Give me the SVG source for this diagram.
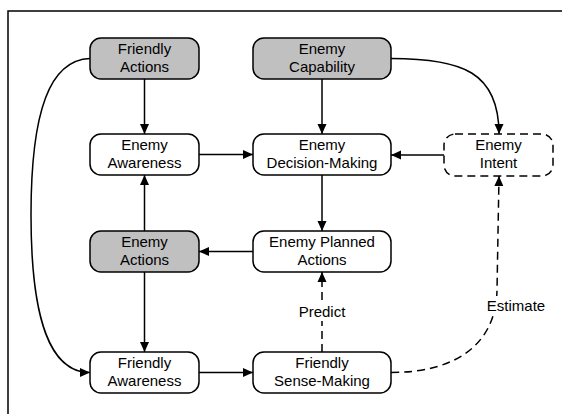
<svg xmlns="http://www.w3.org/2000/svg" width="562" height="414" viewBox="0 0 562 414">
  <style>
    .box { fill: #ffffff; stroke: #000000; stroke-width: 1.5; }
    .grey { fill: #c0c0c0; }
    .dashbox { stroke-dasharray: 8 5; }
    .txt { font-family: "Liberation Sans", Arial, sans-serif; font-size: 15px; fill: #000000; text-anchor: middle; }
    .edge { fill: none; stroke: #000000; stroke-width: 1.5; marker-end: url(#arrow); }
    .dashed { stroke-dasharray: 8 5; }
    .lblbg { fill: #ffffff; }
    .frame { fill: none; stroke: #000000; stroke-width: 1.5; }
  </style>
  <defs>
    <marker id="arrow" markerUnits="userSpaceOnUse" markerWidth="11" markerHeight="10" refX="10" refY="5" orient="auto">
      <path d="M0,0.5 L10,5 L0,9.5 z" fill="#000000"/>
    </marker>
  </defs>

  <rect width="562" height="414" fill="#ffffff"/>
  <!-- page frame -->
  <path class="frame" d="M8,414 L8,11 L562,11"/>

  <!-- connectors -->
  <g id="connectors">
    <path class="edge" d="M144.5,79 L144.5,134"/>
    <path class="edge" d="M322,79 L322,134"/>
    <path class="edge" d="M391,58.5 C462,58.5 499,72 499,134"/>
    <path class="edge" d="M90,58.5 C50,60 31,110 31,215 C31,320 50,372.5 90,372.5"/>
    <path class="edge" d="M199,154.5 L253,154.5"/>
    <path class="edge" d="M444,155 L391,155"/>
    <path class="edge" d="M322,175 L322,231"/>
    <path class="edge" d="M253,251.5 L199,251.5"/>
    <path class="edge" d="M144.5,231 L144.5,175"/>
    <path class="edge" d="M144.5,272 L144.5,352"/>
    <path class="edge" d="M199,372.5 L253,372.5"/>
    <path class="edge dashed" d="M322,352 L322,272"/>
    <path class="edge dashed" d="M391,372.5 C455,372.5 496,345 497,290 L499,176"/>
    <!-- edge labels -->
    <g id="label-predict">
      <rect class="lblbg" x="297" y="302" width="50" height="19"/>
      <text class="txt" x="322" y="317">Predict</text>
    </g>
    <g id="label-estimate">
      <rect class="lblbg" x="487" y="296" width="58" height="19"/>
      <text class="txt" x="516" y="311">Estimate</text>
    </g>
  </g>

  <!-- nodes -->
  <g id="friendly-actions">
    <rect class="box grey" x="90" y="38" width="109" height="41" rx="11"/>
    <text class="txt" x="144.5" y="54">Friendly</text>
    <text class="txt" x="144.5" y="72">Actions</text>
  </g>
  <g id="enemy-capability">
    <rect class="box grey" x="253" y="38" width="138" height="41" rx="11"/>
    <text class="txt" x="322" y="54">Enemy</text>
    <text class="txt" x="322" y="72">Capability</text>
  </g>
  <g id="enemy-awareness">
    <rect class="box" x="90" y="134" width="109" height="41" rx="11"/>
    <text class="txt" x="144.5" y="150">Enemy</text>
    <text class="txt" x="144.5" y="168">Awareness</text>
  </g>
  <g id="enemy-decision-making">
    <rect class="box" x="253" y="134" width="138" height="41" rx="11"/>
    <text class="txt" x="322" y="150">Enemy</text>
    <text class="txt" x="322" y="168">Decision-Making</text>
  </g>
  <g id="enemy-intent">
    <rect class="box dashbox" x="444" y="134" width="109" height="42" rx="11"/>
    <text class="txt" x="498.5" y="150">Enemy</text>
    <text class="txt" x="498.5" y="168">Intent</text>
  </g>
  <g id="enemy-actions">
    <rect class="box grey" x="90" y="231" width="109" height="41" rx="11"/>
    <text class="txt" x="144.5" y="247">Enemy</text>
    <text class="txt" x="144.5" y="265">Actions</text>
  </g>
  <g id="enemy-planned-actions">
    <rect class="box" x="253" y="231" width="138" height="41" rx="11"/>
    <text class="txt" x="322" y="247">Enemy Planned</text>
    <text class="txt" x="322" y="265">Actions</text>
  </g>
  <g id="friendly-awareness">
    <rect class="box" x="90" y="352" width="109" height="41" rx="11"/>
    <text class="txt" x="144.5" y="368">Friendly</text>
    <text class="txt" x="144.5" y="386">Awareness</text>
  </g>
  <g id="friendly-sense-making">
    <rect class="box" x="253" y="352" width="138" height="41" rx="11"/>
    <text class="txt" x="322" y="368">Friendly</text>
    <text class="txt" x="322" y="386">Sense-Making</text>
  </g>
</svg>
